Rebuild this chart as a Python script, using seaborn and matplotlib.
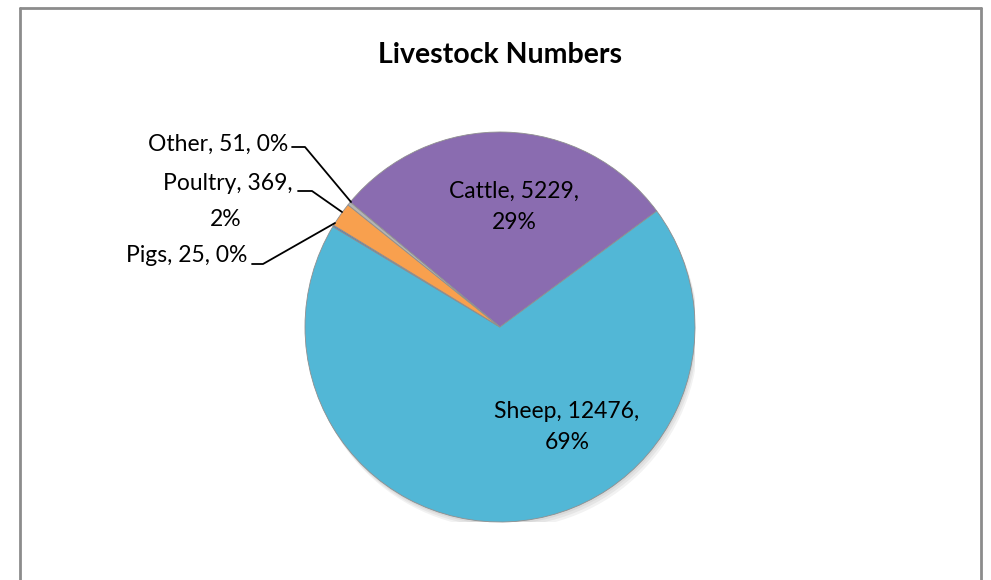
import matplotlib
matplotlib.use("Agg")
import matplotlib.pyplot as plt
import seaborn as sns
from matplotlib.lines import Line2D

sns.set_style("white")
plt.rcParams["font.family"] = ["Lato", "DejaVu Sans"]
plt.rcParams["text.color"] = "black"

# Livestock counts
categories = ["Cattle", "Sheep", "Pigs", "Poultry", "Other"]
counts = [5229, 12476, 25, 369, 51]
colors = sns.color_palette(["#8a6cb0", "#52b7d6", "#4f81bd", "#f8a04e", "#b4b4b4"])

W, H = 991, 580
fig = plt.figure(figsize=(W / 100, H / 100), dpi=100)
fig.patch.set_facecolor("white")

# chart frame (left, top, right edges)
frame_kw = dict(color="#8c8c8c", linewidth=2.0, transform=fig.transFigure)
xl, xr, yt = 19.5 / W, 980.5 / W, 1 - 7.5 / H
fig.add_artist(Line2D([xl, xl], [0, yt], **frame_kw))
fig.add_artist(Line2D([xl, xr], [yt, yt], **frame_kw))
fig.add_artist(Line2D([xr, xr], [0, yt], **frame_kw))

# pie axes: centre at (500, 327) px, radius 195 px
cx, cy, r = 500, 327, 195
ax = fig.add_axes([(cx - r) / W, (H - cy - r) / H, 2 * r / W, 2 * r / H])

# soft drop shadow
for k, a in enumerate([0.05, 0.05, 0.05]):
    ax.add_patch(plt.Circle((0.006 * (k + 1), -0.012 * (k + 1)), 1.0,
                            color="#000000", alpha=a, zorder=0, lw=0))

wedges, _ = ax.pie(
    counts,
    colors=colors,
    startangle=140.2,
    counterclock=False,
    radius=1.0,
    wedgeprops=dict(edgecolor="#8f8f8f", linewidth=0.6),
)
ax.set_xlim(-1, 1)
ax.set_ylim(-1, 1)
ax.axis("off")

total = sum(counts)
pct = [round(100 * v / total) for v in counts]

def px(x, y):
    """Pixel position -> pie data coordinates."""
    return (x - cx) / r, (cy - y) / r

fs = 16.5
# inside labels
ax.text(*px(514, 207), "%s, %d,\n%d%%" % (categories[0], counts[0], pct[0]),
        ha="center", va="center", fontsize=fs, linespacing=1.55, clip_on=False)
ax.text(*px(567, 427), "%s, %d,\n%d%%" % (categories[1], counts[1], pct[1]),
        ha="center", va="center", fontsize=fs, linespacing=1.55, clip_on=False)

# outside labels with leader lines
ax.text(*px(288, 144), "%s, %d, %d%%" % (categories[4], counts[4], pct[4]),
        ha="right", va="center", fontsize=fs, clip_on=False)
ax.plot(*zip(px(292, 147), px(305, 147), px(351, 202)), color="black", lw=1.3, clip_on=False)

ax.text(*px(293, 183), "%s, %d," % (categories[3], counts[3]),
        ha="right", va="center", fontsize=fs, clip_on=False)
ax.text(*px(226, 219), "%d%%" % pct[3], ha="center", va="center",
        fontsize=fs, clip_on=False)
ax.plot(*zip(px(298, 191), px(312, 191), px(342, 212)), color="black", lw=1.3, clip_on=False)

ax.text(*px(247, 256), "%s, %d, %d%%" % (categories[2], counts[2], pct[2]),
        ha="right", va="center", fontsize=fs, clip_on=False)
ax.plot(*zip(px(252, 264), px(263, 264), px(335, 223)), color="black", lw=1.3, clip_on=False)

fig.text(500 / W, 1 - 55 / H, "Livestock Numbers", ha="center", va="center",
         fontsize=20.5, fontweight="bold")

fig.savefig("out.png", dpi=100)
